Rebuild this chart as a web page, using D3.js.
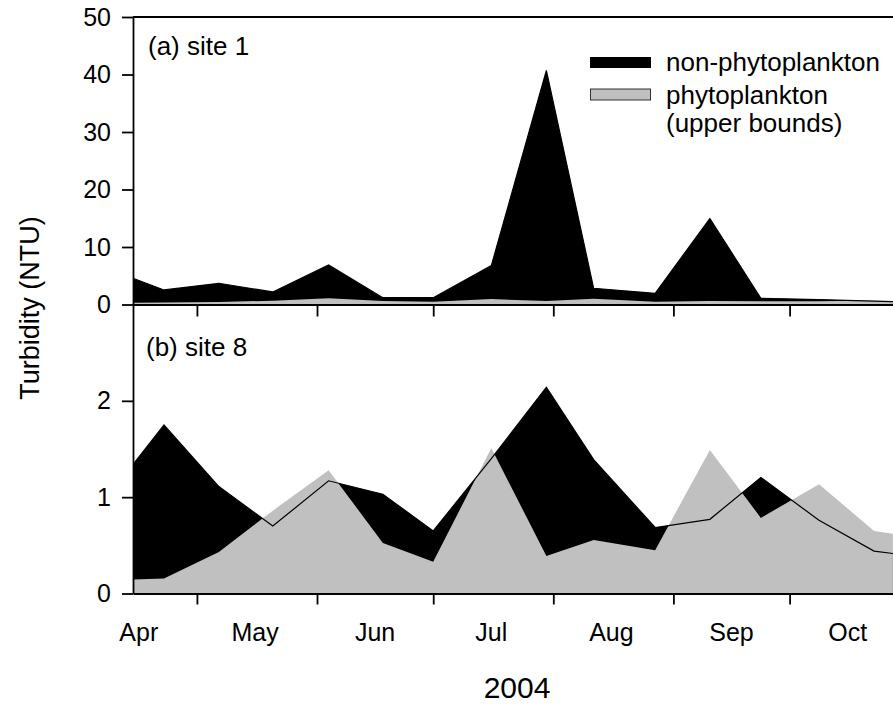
<!DOCTYPE html>
<html><head><meta charset="utf-8">
<script src="https://cdn.jsdelivr.net/npm/d3@7/dist/d3.min.js"></script>
<style>
html,body{margin:0;padding:0;background:#fff;}
svg text{font-family:Arial,"Liberation Sans",Helvetica,sans-serif;fill:#000;}
</style></head>
<body><svg id="c" width="893" height="704"></svg>
<script>
// ---- data ----
const sampleDates = ["2004-04-14 12","2004-04-22 12","2004-05-06 16","2004-05-20 14","2004-06-04 00","2004-06-18 00","2004-07-01 00","2004-07-16 00","2004-07-30 05","2004-08-11 10","2004-08-27 07","2004-09-10 10","2004-09-23 14","2004-10-08 14","2004-10-22 19","2004-10-27 16"];
const site1Total = [4.56, 2.53, 3.69, 2.18, 6.88, 1.19, 1.19, 6.77, 40.7, 2.82, 1.95, 14.95, 1.08, 0.85, 0.6, 0.5];
const site1Phyto = [0.3, 0.35, 0.45, 0.65, 1.1, 0.6, 0.5, 0.95, 0.6, 1.0, 0.5, 0.6, 0.55, 0.55, 0.7, 0.5];
const site8Total = [1.34, 1.75, 1.11, 0.70, 1.17, 1.03, 0.65, 1.40, 2.14, 1.39, 0.685, 0.77, 1.205, 0.76, 0.44, 0.415];
const site8Phyto = [0.145, 0.155, 0.43, 0.86, 1.28, 0.525, 0.33, 1.51, 0.39, 0.555, 0.45, 1.49, 0.785, 1.135, 0.65, 0.62];
const monthLabels = ["Apr","May","Jun","Jul","Aug","Sep","Oct"];
const topTicks = [0,10,20,30,40,50];
const bottomTicks = [0,1,2];
const panelLabels = ["(a) site 1","(b) site 8"];
const legendLabels = ["non-phytoplankton","phytoplankton","(upper bounds)"];

const parse = d3.timeParse("%Y-%m-%d %H");
const dates = sampleDates.map(parse);

const svg = d3.select("#c");
const L = 133, R = 909.7, T = 17, MID = 304.5, B = 593.5;
const x = d3.scaleTime().domain([parse("2004-04-14 12"), parse("2004-11-01 00")]).range([L, R]);
const y1 = d3.scaleLinear().domain([0,50]).range([MID, T]);
const y2 = d3.scaleLinear().domain([0,3]).range([B, MID]);

svg.append("defs").append("clipPath").attr("id","clip")
  .append("rect").attr("x",L).attr("y",T).attr("width",R-L).attr("height",B-T);

function panel(total, phyto, y){
  const g = svg.append("g").attr("clip-path","url(#clip)");
  const rows = dates.map((d,i)=>({d, t: total[i], p: phyto[i]}));
  g.append("path").datum(rows).attr("fill","#000")
    .attr("d", d3.area().x(r=>x(r.d)).y0(y(0)).y1(r=>y(r.t)));
  g.append("path").datum(rows).attr("fill","#c0c0c0")
    .attr("d", d3.area().x(r=>x(r.d)).y0(y(0)).y1(r=>y(r.p)));
  g.append("path").datum(rows).attr("fill","none").attr("stroke","#000").attr("stroke-width",1.2)
    .attr("d", d3.line().x(r=>x(r.d)).y(r=>y(r.t)));
}
panel(site1Total, site1Phyto, y1);
panel(site8Total, site8Phyto, y2);

const tickFs = 25, labFs = 26;
// left axes
const ax1 = svg.append("g").attr("transform",`translate(${L},0)`)
  .call(d3.axisLeft(y1).tickValues(topTicks).tickFormat(d3.format("d")).tickSize(11).tickPadding(11).tickSizeOuter(0));
const ax2 = svg.append("g").attr("transform",`translate(${L},0)`)
  .call(d3.axisLeft(y2).tickValues(bottomTicks).tickFormat(d3.format("d")).tickSize(11).tickPadding(11).tickSizeOuter(0));
[ax1,ax2].forEach(a=>{
  a.selectAll("text").style("font-size",tickFs+"px");
  a.selectAll("line,path").attr("stroke","#000").attr("stroke-width",1.8);
});

// top border
svg.append("line").attr("x1",L).attr("x2",893).attr("y1",T).attr("y2",T).attr("stroke","#000").attr("stroke-width",1.8);

// month ticks
const monthTicks = d3.timeMonth.range(parse("2004-05-01 00"), parse("2004-11-02 00"));
const mx1 = svg.append("g").attr("transform",`translate(0,${MID})`)
  .call(d3.axisBottom(x).tickValues(monthTicks).tickSize(12).tickFormat("").tickSizeOuter(0));
const mx2 = svg.append("g").attr("transform",`translate(0,${B})`)
  .call(d3.axisBottom(x).tickValues(monthTicks).tickSize(11).tickFormat("").tickSizeOuter(0));
[mx1,mx2].forEach(a=>a.selectAll("line,path").attr("stroke","#000").attr("stroke-width",1.8));

// month labels at mid-month
const monthMids = monthLabels.map((m,i)=>new Date(2004, 3+i, 16));
svg.append("g").selectAll("text").data(monthLabels).join("text")
  .attr("x",(d,i)=>x(monthMids[i])).attr("y",641).attr("text-anchor","middle")
  .style("font-size",tickFs+"px").text(d=>d);

// axis titles
svg.append("text").attr("x",517).attr("y",698).attr("text-anchor","middle").style("font-size","30px").text("2004");
svg.append("text").attr("transform","translate(39,308) rotate(-90)").attr("text-anchor","middle").style("font-size","27px").text("Turbidity (NTU)");

// panel labels
svg.append("text").attr("x",148).attr("y",55).style("font-size",labFs+"px").text(panelLabels[0]);
svg.append("text").attr("x",146).attr("y",356).style("font-size",labFs+"px").text(panelLabels[1]);

// legend
svg.append("rect").attr("x",590).attr("y",57).attr("width",61).attr("height",11).attr("fill","#000");
svg.append("rect").attr("x",590.5).attr("y",89).attr("width",60).attr("height",11).attr("fill","#c0c0c0").attr("stroke","#333").attr("stroke-width",1);
svg.append("text").attr("x",666).attr("y",71).style("font-size",labFs+"px").text(legendLabels[0]);
svg.append("text").attr("x",666).attr("y",104).style("font-size",labFs+"px").text(legendLabels[1]);
svg.append("text").attr("x",666).attr("y",132).style("font-size",labFs+"px").text(legendLabels[2]);
</script></body></html>
